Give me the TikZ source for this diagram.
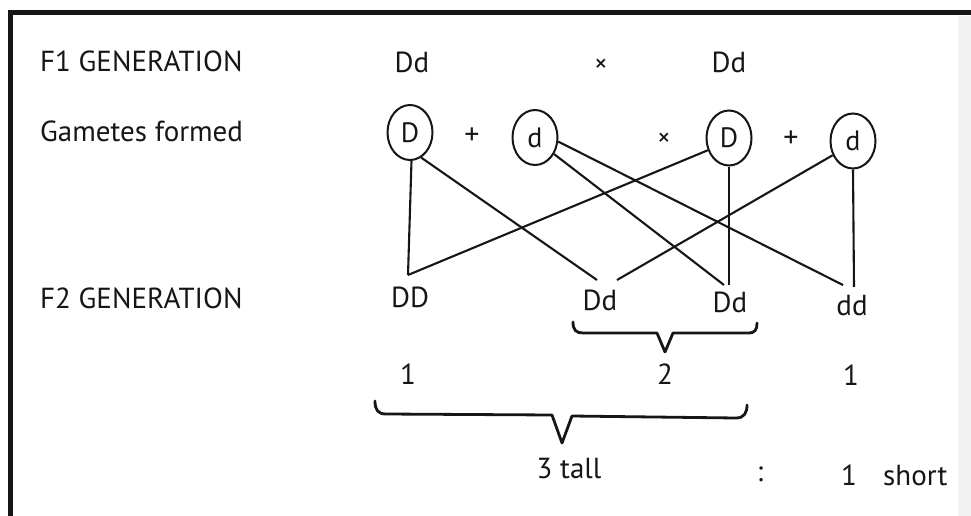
\documentclass[tikz,border=0pt]{standalone}
\usepackage{fontspec}
\setmainfont{PT Sans}
\usetikzlibrary{shapes.geometric}
\definecolor{ink}{HTML}{161616}
\begin{document}
\begin{tikzpicture}[x=1pt,y=-1pt,
  txt/.style={inner sep=0pt, text=ink, font=\fontsize{29}{33}\selectfont},
  rowlbl/.style={txt, anchor=base west},
  geno/.style={txt, anchor=base},
  plus/.style={inner sep=0pt, text=ink, font=\fontsize{30}{34}\selectfont},
  times/.style={inner sep=0pt, text=ink, font=\fontsize{26}{30}\selectfont},
  gamete/.style={ellipse, draw=ink, line width=2pt, minimum width=45pt,
    minimum height=55pt, inner sep=0pt, text=ink, font=\fontsize{28}{32}\selectfont},
  link/.style={draw=ink, line width=2.1pt},
  brace/.style={draw=ink, line width=2.8pt, line join=round, line cap=round}
]
\useasboundingbox (0,0) rectangle (971,516);
\fill[white] (0,0) rectangle (971,516);
\fill[black!5] (958,16) rectangle (971,516);

% frame
\draw[ink, line width=5pt] (8.5,12.5) -- (971,12.5);
\draw[ink, line width=5pt] (10.8,10) -- (10.8,516);

% row labels
\node[rowlbl] (f1)  at (40,72)  {F1 GENERATION};
\node[rowlbl] (gam) at (40,142) {Gametes formed};
\node[rowlbl] (f2)  at (40,308) {F2 GENERATION};

% parents
\node[geno]  (p1) at (412,73) {Dd};
\node[times] (x1) at (601,66) {×};
\node[geno]  (p2) at (729,73) {Dd};

% gametes
\node[gamete] (D1)  at (410,132.5) {D};
\node[plus]   (pl1) at (472,136) {+};
\node[gamete] (d1)  at (535,137.5) {d};
\node[times]  (x2)  at (664,140) {×};
\node[gamete] (D2)  at (729,138) {D};
\node[plus]   (pl2) at (791,139) {+};
\node[gamete] (d2)  at (853,141) {d};

% offspring
\node[geno] (DD)  at (410,307) {DD};
\node[geno] (Dd1) at (600,310) {Dd};
\node[geno] (Dd2) at (730,312) {Dd};
\node[geno] (dd)  at (852,315) {dd};

% meeting points above the offspring
\coordinate (DDtop) at (408,275);
\coordinate (Dd1L)  at (597,280);
\coordinate (Dd1R)  at (617,280);
\coordinate (Dd2L)  at (724,285);
\coordinate (Dd2R)  at (729,285);
\coordinate (ddL)   at (843,285);
\coordinate (ddR)   at (854,287);

% fertilisation lines
\draw[link] (D1.-87)  -- (DDtop);
\draw[link] (D2.210)  -- (DDtop);
\draw[link] (D1.-66)  -- (Dd1L);
\draw[link] (d2.215)  -- (Dd1R);
\draw[link] (d1.-41)  -- (Dd2L);
\draw[link] (D2.south) -- (Dd2R);
\draw[link] (d1.-10)  -- (ddL);
\draw[link] (d2.south) -- (ddR);

% brace under the two heterozygotes
\draw[brace] (573,322) .. controls (573,330) and (576,333) .. (583,333)
  -- (657,333) -- (665,352) -- (673,333) -- (748,333)
  .. controls (755,333) and (757,330) .. (757,323);

% ratio numbers
\node[txt] (n1) at (408,374) {1};
\node[txt] (n2) at (665,374) {2};
\node[txt] (n3) at (851,375) {1};

% brace under the dominant phenotypes
\draw[brace] (375,401) .. controls (375,410) and (378,414) .. (386,414)
  -- (552,415) -- (562,443) -- (572,416) -- (736,418)
  .. controls (744,418) and (747,413) .. (747,405);

% phenotype ratio
\node[geno] (tall)  at (569,478) {3 tall};
\node[txt]  (colon) at (760,474) {:};
\node[geno] (n4)    at (849,485) {1};
\node[geno, anchor=base west] (short) at (883,485) {short};
\end{tikzpicture}
\end{document}
